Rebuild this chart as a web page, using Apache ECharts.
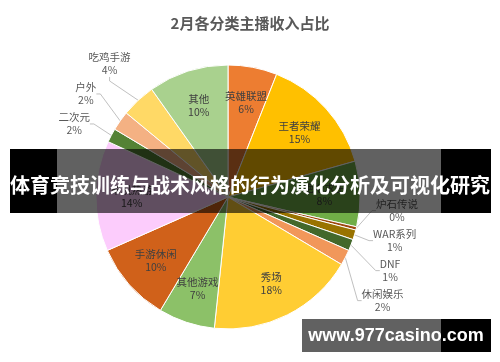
<!DOCTYPE html>
<html>
<head>
<meta charset="utf-8">
<script src="https://cdn.jsdelivr.net/npm/echarts@6/dist/echarts.min.js"></script>
<style>
html,body{margin:0;padding:0;background:#fff;}
#chart{width:500px;height:362px;}
</style>
</head>
<body>
<div id="chart"></div>
<script>
// ---- data ----
var categories = ['英雄联盟','王者荣耀','绝地求生','炉石传说','WAR系列','DNF','休闲娱乐','秀场','其他游戏','手游休闲','单机热游','二次元','户外','吃鸡手游','其他'];
var shares     = [6.0, 14.6, 8.0, 0.4, 1.2, 1.4, 1.9, 18.1, 6.9, 9.8, 13.5, 1.7, 2.4, 4.2, 9.8];
var titleText  = '2月各分类主播收入占比';
var bannerText = '体育竞技训练与战术风格的行为演化分析及可视化研究';
var markText   = 'www.977casino.com';

// ---- styles ----
var palette = ['#ED7D31','#FFC000','#70AD47','#9E480E','#997300','#43682B','#F1975A','#FFCD33','#8CC168','#D0611A','#FCCCFC','#548235','#F4B183','#FFD966','#A9D18E'];
var CX = 228, CY = 197, R = 132;
var OUT_D = R + 42, IN_D = R * 0.73, GAP = 30;
var CJK = '"Noto Sans CJK SC","Noto Sans",sans-serif';

var total = shares.reduce(function(a,b){return a+b;},0);
var cum = [];
shares.reduce(function(acc,v,i){cum[i]=acc;return acc+v;},0);
var isSmall = shares.map(function(v){return v < 5;});

// label anchor positions derived from slice mid-angles
var pos = shares.map(function(v,i){
  var a = 2*Math.PI*(cum[i]+v/2)/total;
  var d = isSmall[i] ? OUT_D : IN_D;
  return {x:CX+Math.sin(a)*d, y:CY-Math.cos(a)*d, right:Math.sin(a)>0};
});
// spread outside labels on each side, keeping the group's mean height
[true,false].forEach(function(side){
  var idx = [];
  pos.forEach(function(p,i){ if(isSmall[i] && p.right===side) idx.push(i); });
  if (!idx.length) return;
  idx.sort(function(a,b){return pos[a].y-pos[b].y;});
  var orig = idx.map(function(i){return pos[i].y;});
  var ys = orig.slice();
  for (var k=1;k<ys.length;k++) if (ys[k]-ys[k-1]<GAP) ys[k]=ys[k-1]+GAP;
  var shift = (orig.reduce(function(a,b){return a+b;},0)-ys.reduce(function(a,b){return a+b;},0))/ys.length;
  idx.forEach(function(i,k){ pos[i].y = ys[k]+shift; });
});

var chart = echarts.init(document.getElementById('chart'));
chart.setOption({
  animation:false,
  backgroundColor:'#fff',
  title:{
    text:titleText, left:'center', top:11,
    textStyle:{fontFamily:CJK,fontSize:15,fontWeight:'bold',color:'#595959'}
  },
  series:[{
    type:'pie',
    center:[CX,CY],
    radius:[0,R],
    startAngle:90,
    clockwise:true,
    avoidLabelOverlap:false,
    itemStyle:{borderColor:'#fff',borderWidth:1},
    label:{
      position:'outside',
      fontFamily:CJK, fontSize:10.5, lineHeight:13, color:'#595959',
      formatter:function(p){return p.name+'\n'+Math.round(p.percent)+'%';}
    },
    labelLine:{length:8,length2:4,lineStyle:{color:'#b0b0b0',width:0.8}},
    labelLayout:function(p){
      var q = pos[p.dataIndex];
      return {x:q.x, y:q.y, align:'center', verticalAlign:'middle'};
    },
    data:categories.map(function(n,i){
      return {
        name:n, value:shares[i],
        itemStyle:{color:palette[i]},
        label:{color: isSmall[i] ? '#595959' : '#404040'},
        labelLine:{show:isSmall[i]}
      };
    })
  }],
  graphic:[
    {type:'rect',z:100,shape:{x:10,y:149,width:47,height:64},style:{fill:'#000'}},
    {type:'rect',z:100,shape:{x:57,y:149,width:384,height:64},style:{fill:'rgba(0,0,0,0.62)'}},
    {type:'rect',z:100,shape:{x:441,y:149,width:50,height:64},style:{fill:'#000'}},
    {type:'text',z:101,x:250,y:185,style:{text:bannerText,fill:'#fff',font:'bold 20px '+CJK,textAlign:'center',textVerticalAlign:'middle'}},
    {type:'rect',z:100,shape:{x:302,y:319,width:139,height:33},style:{fill:'rgba(0,0,0,0.62)'}},
    {type:'rect',z:100,shape:{x:441,y:319,width:50,height:33},style:{fill:'#000'}},
    {type:'text',z:101,x:396,y:336,style:{text:markText,fill:'#fff',font:'bold 18px "Liberation Sans",Arial,sans-serif',textAlign:'center',textVerticalAlign:'middle'}}
  ]
});
</script>
</body>
</html>
